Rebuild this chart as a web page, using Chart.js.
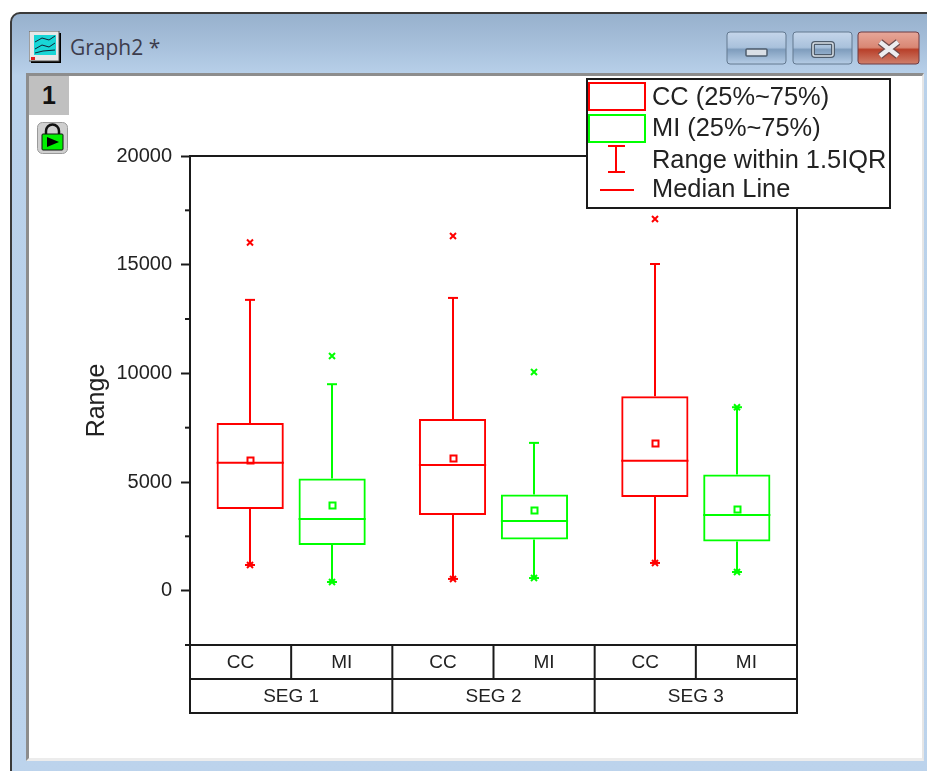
<!DOCTYPE html>
<html><head><meta charset="utf-8"><title>Graph2</title>
<script src="https://cdn.jsdelivr.net/npm/chart.js@4"></script>
<style>
html,body{margin:0;padding:0;background:#fff;width:927px;height:771px;overflow:hidden}
#win{position:absolute;left:10px;top:12px;width:940px;height:780px;box-sizing:border-box;border:2px solid #3a3a3a;border-radius:10px 0 0 0;background:linear-gradient(#97b1cd 0,#a6bfda 30px,#b9d1ea 62px,#bcd3ec 100%)}
#client{position:absolute;left:26px;top:73px;width:898px;height:688px;box-sizing:border-box;background:#fff;border-top:3px solid #8d8d8d;border-left:3px solid #8d8d8d;border-right:2px solid #e6e6e6;border-bottom:3px solid #ececec}
#title{position:absolute;left:70px;top:33px;font:21px "Open Sans",sans-serif;color:#3c3c4c;white-space:nowrap}
#tab{position:absolute;left:29px;top:76px;width:40px;height:39px;background:#c0c0c0;font:bold 25px/39px "Liberation Sans",sans-serif;text-align:center;color:#111}
svg.abs{position:absolute}
canvas{position:absolute;left:0;top:0}
</style></head><body>
<div id="win"></div><div id="client"></div>
<svg class="abs" style="left:29px;top:31px" width="33" height="32" viewBox="0 0 33 32"><rect x="2" y="2" width="30" height="30" fill="#000"/><rect x="0" y="0" width="30" height="30" fill="#e8e8e8" stroke="#555"/><rect x="5" y="4" width="22" height="20" fill="#19d6d6"/><path d="M6 11L13 7L20 9L26 5M6 18L13 14L20 16L26 12M6 22L14 20L26 19" stroke="#123" fill="none"/><rect x="2" y="26" width="4" height="3" fill="#e02020"/></svg>
<div id="title">Graph2 *</div>
<svg class="abs" style="left:726px;top:31px" width="196" height="34" viewBox="0 0 196 34">
<defs><linearGradient id="gb" x1="0" y1="0" x2="0" y2="1"><stop offset="0" stop-color="#c5d6ea"/><stop offset=".48" stop-color="#a9c1dc"/><stop offset=".55" stop-color="#7f9dbd"/><stop offset="1" stop-color="#b6cde6"/></linearGradient>
<linearGradient id="gc" x1="0" y1="0" x2="0" y2="1"><stop offset="0" stop-color="#e7a79a"/><stop offset=".48" stop-color="#d98774"/><stop offset=".55" stop-color="#b8402a"/><stop offset="1" stop-color="#d0806c"/></linearGradient></defs>
<rect x="1" y="1" width="59" height="32" rx="3" fill="url(#gb)" stroke="#62788f"/>
<rect x="67" y="1" width="59" height="32" rx="3" fill="url(#gb)" stroke="#62788f"/>
<rect x="132" y="1" width="61" height="32" rx="3" fill="url(#gc)" stroke="#6d3a42"/>
<rect x="20" y="18" width="21" height="7" rx="1" fill="#d9dfe6" stroke="#4e5c6c" stroke-width="1.5"/>
<rect x="87" y="12" width="20" height="13" rx="2" fill="none" stroke="#4e5c6c" stroke-width="4"/><rect x="87" y="12" width="20" height="13" rx="2" fill="none" stroke="#d9dfe6" stroke-width="1.5"/>
<path d="M154 11L172 25M172 11L154 25" stroke="#6d4a4a" stroke-width="7"/><path d="M154 11L172 25M172 11L154 25" stroke="#ecedef" stroke-width="4.5"/>
</svg>
<div id="tab">1</div>
<svg class="abs" style="left:37px;top:122px" width="31" height="32" viewBox="0 0 31 32"><rect x=".5" y=".5" width="30" height="31" rx="5" fill="#cfcfcf" stroke="#9a9a9a"/><path d="M9 13V9a6 6 0 0 1 13 0v4" fill="none" stroke="#111" stroke-width="2.5"/><rect x="5" y="12" width="21" height="16" rx="1" fill="#00f000" stroke="#111"/><path d="M10 15V25L22 20Z" fill="#000"/></svg>
<canvas id="plot" width="927" height="771"></canvas>
<script>
const segments = ['SEG 1', 'SEG 2', 'SEG 3'];
const groups = ['CC', 'MI', 'CC', 'MI', 'CC', 'MI'];
const yTicks = [0, 5000, 10000, 15000, 20000];
const yMinorTicks = [-2500, 2500, 7500, 12500, 17500];
const legendNames = ['CC (25%~75%)', 'MI (25%~75%)', 'Range within 1.5IQR', 'Median Line'];

const ccQ1 = [3760, 3480, 4310];
const ccMedian = [5890, 5785, 5980];
const ccQ3 = [7717, 7900, 8950];
const ccMean = [6015, 6105, 6800];
const ccWhiskerLow = [1180, 540, 1275];
const ccWhiskerHigh = [13380, 13470, 15030];
const ccOutlierHigh = [16020, 16320, 17100];

const miQ1 = [2100, 2355, 2260];
const miMedian = [3300, 3205, 3480];
const miQ3 = [5160, 4430, 5350];
const miMean = [3930, 3710, 3750];
const miWhiskerLow = [400, 580, 860];
const miWhiskerHigh = [9500, 6800, 8440];
const miOutlierHigh = [10800, 10060, 8440];

const RED = '#ff0000', GREEN = '#00ff00', INK = '#1a1a1a';
const FONT = '"Liberation Sans", Arial, sans-serif';
const series = [
  {color: RED, median: ccMedian, mean: ccMean, low: ccWhiskerLow, high: ccWhiskerHigh, out: ccOutlierHigh},
  {color: GREEN, median: miMedian, mean: miMean, low: miWhiskerLow, high: miWhiskerHigh, out: miOutlierHigh}
];
const hline = (ctx, x0, x1, y) => { ctx.beginPath(); ctx.moveTo(x0, y); ctx.lineTo(x1, y); ctx.stroke(); };
const vline = (ctx, x, y0, y1) => { ctx.beginPath(); ctx.moveTo(x, y0); ctx.lineTo(x, y1); ctx.stroke(); };
const cross = (ctx, x, y) => { const r = 3; ctx.beginPath(); ctx.moveTo(x-r, y-r); ctx.lineTo(x+r, y+r); ctx.moveTo(x+r, y-r); ctx.lineTo(x-r, y+r); ctx.stroke(); };

const boxMarks = {
  id: 'boxMarks',
  afterDatasetsDraw(chart) {
    const {ctx, scales: {y}} = chart;
    ctx.save();
    ctx.lineWidth = 2;
    series.forEach((s, d) => {
      const meta = chart.getDatasetMeta(d);
      ctx.strokeStyle = s.color;
      meta.data.forEach((bar, i) => {
        const x = Math.round(bar.x), half = bar.width / 2;
        const q3 = chart.data.datasets[d].data[i][1], q1 = chart.data.datasets[d].data[i][0];
        vline(ctx, x, y.getPixelForValue(s.high[i]), y.getPixelForValue(q3));
        vline(ctx, x, y.getPixelForValue(q1), y.getPixelForValue(s.low[i]));
        hline(ctx, x-5, x+5, y.getPixelForValue(s.high[i]));
        hline(ctx, x-5, x+5, y.getPixelForValue(s.low[i]));
        hline(ctx, bar.x-half, bar.x+half, y.getPixelForValue(s.median[i]));
        cross(ctx, x, y.getPixelForValue(s.low[i]));
        cross(ctx, x, y.getPixelForValue(s.out[i]));
        ctx.strokeRect(x-2.5, Math.round(y.getPixelForValue(s.mean[i]))-2.5, 6, 6);
      });
    });
    ctx.restore();
  }
};

const frameAndTable = {
  id: 'frameAndTable',
  afterDraw(chart) {
    const {ctx, chartArea: a, scales: {x, xSub, y}} = chart;
    ctx.save();
    ctx.strokeStyle = INK; ctx.lineWidth = 2;
    ctx.strokeRect(a.left, a.top, a.right-a.left, a.bottom-a.top);
    const rowBottom = xSub.bottom, tableBottom = x.bottom;
    hline(ctx, a.left, a.right, rowBottom);
    hline(ctx, a.left-1, a.right+1, tableBottom);
    vline(ctx, a.left, a.bottom, tableBottom);
    vline(ctx, a.right, a.bottom, tableBottom);
    const n = groups.length, cell = (a.right-a.left)/n;
    for (let i = 1; i < n; i++) {
      const cx = a.left + cell*i;
      vline(ctx, cx, a.bottom, i % 2 ? rowBottom : tableBottom);
    }
    yMinorTicks.forEach(v => hline(ctx, a.left-5, a.left, y.getPixelForValue(v)));
    // legend
    const L = 587, T = 79, R = 890, B = 208;
    ctx.fillStyle = '#fff'; ctx.fillRect(L, T, R-L, B-T);
    ctx.strokeStyle = INK; ctx.strokeRect(L, T, R-L, B-T);
    ctx.strokeStyle = RED; ctx.strokeRect(589, 83, 56, 27);
    ctx.strokeStyle = GREEN; ctx.strokeRect(589, 115, 56, 27);
    ctx.strokeStyle = RED;
    vline(ctx, 616, 146, 172); hline(ctx, 608, 625, 146); hline(ctx, 608, 625, 172);
    hline(ctx, 600, 634, 190);
    ctx.fillStyle = '#222'; ctx.font = '25.4px ' + FONT; ctx.textBaseline = 'alphabetic';
    [105, 136, 168, 197].forEach((by, i) => ctx.fillText(legendNames[i], 652, by));
    ctx.restore();
  }
};

new Chart(document.getElementById('plot'), {
  type: 'bar',
  data: {
    labels: segments,
    datasets: [
      {label: 'CC', xAxisID: 'x', yAxisID: 'y', data: segments.map((_, i) => [ccQ1[i], ccQ3[i]]), borderColor: RED, backgroundColor: 'transparent', borderWidth: 2, borderSkipped: false, categoryPercentage: 0.81, barPercentage: 0.82},
      {label: 'MI', xAxisID: 'x', yAxisID: 'y', data: segments.map((_, i) => [miQ1[i], miQ3[i]]), borderColor: GREEN, backgroundColor: 'transparent', borderWidth: 2, borderSkipped: false, categoryPercentage: 0.81, barPercentage: 0.82}
    ]
  },
  plugins: [boxMarks, frameAndTable],
  options: {
    responsive: false, animation: false,
    layout: {padding: {left: 82, right: 130, top: 156, bottom: 58}},
    plugins: {legend: {display: false}, tooltip: {enabled: false}, title: {display: false}},
    scales: {
      y: {
        min: -2500, max: 20000,
        afterFit(s) { s.width = 108; },
        afterBuildTicks(s) { s.ticks = [-2500].concat(yTicks).map(value => ({value})); },
        ticks: {padding: 9, color: '#222', font: {family: FONT, size: 20}, callback: v => yTicks.includes(v) ? String(v) : ''},
        grid: {drawOnChartArea: false, tickLength: 9, tickWidth: 2, tickColor: c => c.tick && c.tick.value === -2500 ? 'transparent' : INK},
        border: {display: false},
        title: {display: true, text: 'Range', color: '#222', font: {family: FONT, size: 25}, padding: {top: 0, bottom: 0}}
      },
      xSub: {
        type: 'category', axis: 'x', position: 'bottom', weight: 1, labels: groups, offset: true,
        afterFit(s) { s.height = 34; },
        grid: {display: false, tickLength: 0}, border: {display: false},
        ticks: {autoSkip: false, maxRotation: 0, padding: 6, color: '#222', font: {family: FONT, size: 19}}
      },
      x: {
        type: 'category', position: 'bottom', weight: 2, offset: true,
        afterFit(s) { s.height = 34; },
        grid: {display: false, tickLength: 0}, border: {display: false},
        ticks: {autoSkip: false, maxRotation: 0, padding: 6, color: '#222', font: {family: FONT, size: 19}}
      }
    }
  }
});
</script>
</body></html>
